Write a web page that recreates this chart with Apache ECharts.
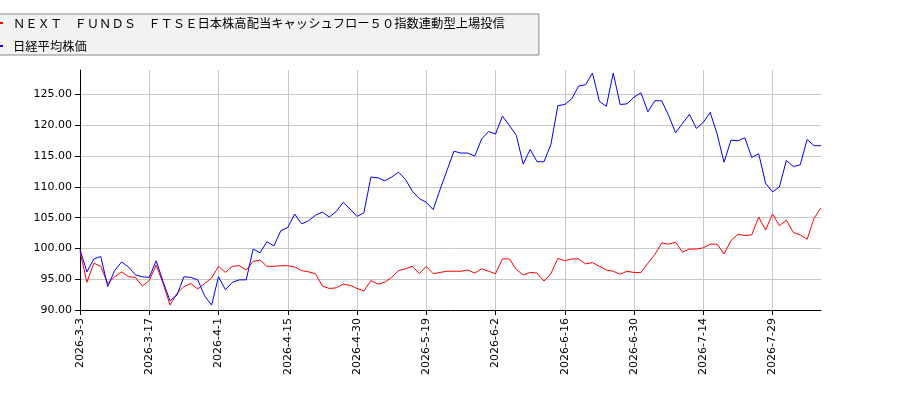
<!DOCTYPE html>
<html>
<head>
<meta charset="utf-8">
<script src="https://cdn.jsdelivr.net/npm/echarts@6/dist/echarts.min.js"></script>
<style>
  html, body { margin: 0; padding: 0; background: #fff; }
  #chart { width: 900px; height: 400px; }
</style>
</head>
<body>
<div id="chart"></div>
<script>
var fundName = 'ＮＥＸＴ　ＦＵＮＤＳ　ＦＴＳＥ日本株高配当キャッシュフロー５０指数連動型上場投信';
var nikkeiName = '日経平均株価';

var dates = [
  '2026-3-3', '2026-3-4', '2026-3-5', '2026-3-6', '2026-3-9', '2026-3-10', '2026-3-11', '2026-3-12', '2026-3-13', '2026-3-16',
  '2026-3-17', '2026-3-18', '2026-3-19', '2026-3-23', '2026-3-24', '2026-3-25', '2026-3-26', '2026-3-27', '2026-3-30', '2026-3-31',
  '2026-4-1', '2026-4-2', '2026-4-3', '2026-4-6', '2026-4-7', '2026-4-8', '2026-4-9', '2026-4-10', '2026-4-13', '2026-4-14',
  '2026-4-15', '2026-4-16', '2026-4-17', '2026-4-20', '2026-4-21', '2026-4-22', '2026-4-23', '2026-4-24', '2026-4-27', '2026-4-28',
  '2026-4-30', '2026-5-1', '2026-5-7', '2026-5-8', '2026-5-11', '2026-5-12', '2026-5-13', '2026-5-14', '2026-5-15', '2026-5-18',
  '2026-5-19', '2026-5-20', '2026-5-21', '2026-5-22', '2026-5-25', '2026-5-26', '2026-5-27', '2026-5-28', '2026-5-29', '2026-6-1',
  '2026-6-2', '2026-6-3', '2026-6-4', '2026-6-5', '2026-6-8', '2026-6-9', '2026-6-10', '2026-6-11', '2026-6-12', '2026-6-15',
  '2026-6-16', '2026-6-17', '2026-6-18', '2026-6-19', '2026-6-22', '2026-6-23', '2026-6-24', '2026-6-25', '2026-6-26', '2026-6-29',
  '2026-6-30', '2026-7-1', '2026-7-2', '2026-7-3', '2026-7-6', '2026-7-7', '2026-7-8', '2026-7-9', '2026-7-10', '2026-7-13',
  '2026-7-14', '2026-7-15', '2026-7-16', '2026-7-17', '2026-7-21', '2026-7-22', '2026-7-23', '2026-7-24', '2026-7-27', '2026-7-28',
  '2026-7-29', '2026-7-30', '2026-7-31', '2026-8-3', '2026-8-4', '2026-8-5', '2026-8-6', '2026-8-7'
];

// ETF (red), rebased to 100
var fundValues = [
  99.5, 94.5, 97.6, 97.1, 94.3, 95.4, 96.2, 95.4, 95.3, 93.9,
  94.8, 97.3, 94.3, 90.8, 92.7, 93.8, 94.3, 93.4, 94.3, 95.2,
  97.1, 96.1, 97.1, 97.2, 96.5, 97.9, 98.1, 97.1, 97.1, 97.2,
  97.2, 97.0, 96.4, 96.2, 95.9, 93.9, 93.5, 93.6, 94.2, 94.0,
  93.5, 93.1, 94.8, 94.2, 94.5, 95.3, 96.4, 96.7, 97.1, 95.9,
  97.1, 95.9, 96.1, 96.3, 96.3, 96.3, 96.5, 96.0, 96.7, 96.3,
  95.9, 98.3, 98.3, 96.6, 95.7, 96.1, 96.0, 94.7, 95.9, 98.4,
  98.0, 98.3, 98.3, 97.5, 97.7, 97.1, 96.5, 96.3, 95.8, 96.3,
  96.1, 96.1, 97.6, 99.0, 100.9, 100.7, 101.0, 99.4, 99.9, 99.9,
  100.1, 100.7, 100.7, 99.1, 101.3, 102.3, 102.1, 102.2, 105.1, 103.0,
  105.6, 103.7, 104.6, 102.6, 102.2, 101.5, 104.9, 106.6
];

// Nikkei 225 (blue), rebased to 100
var nikkeiValues = [
  99.8, 96.2, 98.3, 98.7, 93.8, 96.4, 97.8, 97.0, 95.7, 95.4,
  95.3, 98.0, 94.6, 91.5, 92.4, 95.4, 95.3, 94.9, 92.3, 90.8,
  95.4, 93.3, 94.5, 94.9, 94.9, 99.9, 99.3, 101.1, 100.4, 102.9,
  103.4, 105.6, 104.0, 104.5, 105.4, 105.9, 105.1, 106.0, 107.5, 106.4,
  105.2, 105.8, 111.6, 111.5, 111.0, 111.6, 112.4, 111.2, 109.3, 108.1,
  107.5, 106.3, 109.6, 112.7, 115.8, 115.5, 115.5, 115.0, 117.8, 119.0,
  118.6, 121.5, 120.0, 118.4, 113.7, 116.1, 114.1, 114.1, 116.9, 123.2,
  123.4, 124.3, 126.4, 126.6, 128.5, 123.9, 123.1, 128.5, 123.4, 123.5,
  124.6, 125.3, 122.2, 124.0, 124.0, 121.6, 118.8, 120.3, 121.8, 119.5,
  120.5, 122.1, 118.6, 114.0, 117.6, 117.5, 118.0, 114.8, 115.4, 110.6,
  109.2, 110.0, 114.3, 113.3, 113.6, 117.7, 116.7, 116.7
];

var yMin = 90;
var yMax = 129;
var yStep = 5;

var myChart = echarts.init(document.getElementById('chart'));
var labelFont = { fontFamily: 'DejaVu Sans', fontSize: 11, color: '#000' };

option = {
  animation: false,
  backgroundColor: '#fff',
  legend: {
    orient: 'vertical',
    left: -10,
    top: 14,
    padding: [2, 34, 2, 6],
    itemGap: 9,
    itemWidth: 7,
    itemHeight: 2,
    icon: 'rect',
    backgroundColor: '#f2f2f2',
    borderColor: '#888',
    borderWidth: 1,
    borderRadius: 0,
    textStyle: {
      fontFamily: 'Noto Sans CJK JP',
      fontSize: 12.3,
      color: '#000',
      lineHeight: 14,
      padding: [0, 0, 0, 5]
    },
    data: [fundName, nikkeiName]
  },
  grid: { left: 80, right: 79, top: 70, bottom: 90 },
  xAxis: {
    type: 'category',
    boundaryGap: false,
    data: dates,
    axisLine: { lineStyle: { color: '#000', width: 1 } },
    axisTick: { interval: 9, length: 5, lineStyle: { color: '#000' } },
    axisLabel: Object.assign({ interval: 9, rotate: 90, margin: 8 }, labelFont),
    splitLine: { show: true, interval: 9, lineStyle: { color: '#c8c8c8', width: 1 } }
  },
  yAxis: {
    type: 'value',
    min: yMin,
    max: yMax,
    interval: yStep,
    axisLine: { show: true, lineStyle: { color: '#000', width: 1 } },
    axisTick: { show: true, length: 5, lineStyle: { color: '#000' } },
    axisLabel: Object.assign({
      margin: 8,
      showMaxLabel: false,
      formatter: function (v) { return v.toFixed(2); }
    }, labelFont),
    splitLine: { show: true, showMaxLine: false, lineStyle: { color: '#c8c8c8', width: 1 } }
  },
  series: [
    {
      name: fundName,
      type: 'line',
      data: fundValues,
      showSymbol: false,
      symbol: 'none',
      color: '#ff0000',
      lineStyle: { color: '#ff0000', width: 1 }
    },
    {
      name: nikkeiName,
      type: 'line',
      data: nikkeiValues,
      showSymbol: false,
      symbol: 'none',
      color: '#0000ff',
      lineStyle: { color: '#0000ff', width: 1 }
    }
  ]
};
myChart.setOption(option);
</script>
</body>
</html>
